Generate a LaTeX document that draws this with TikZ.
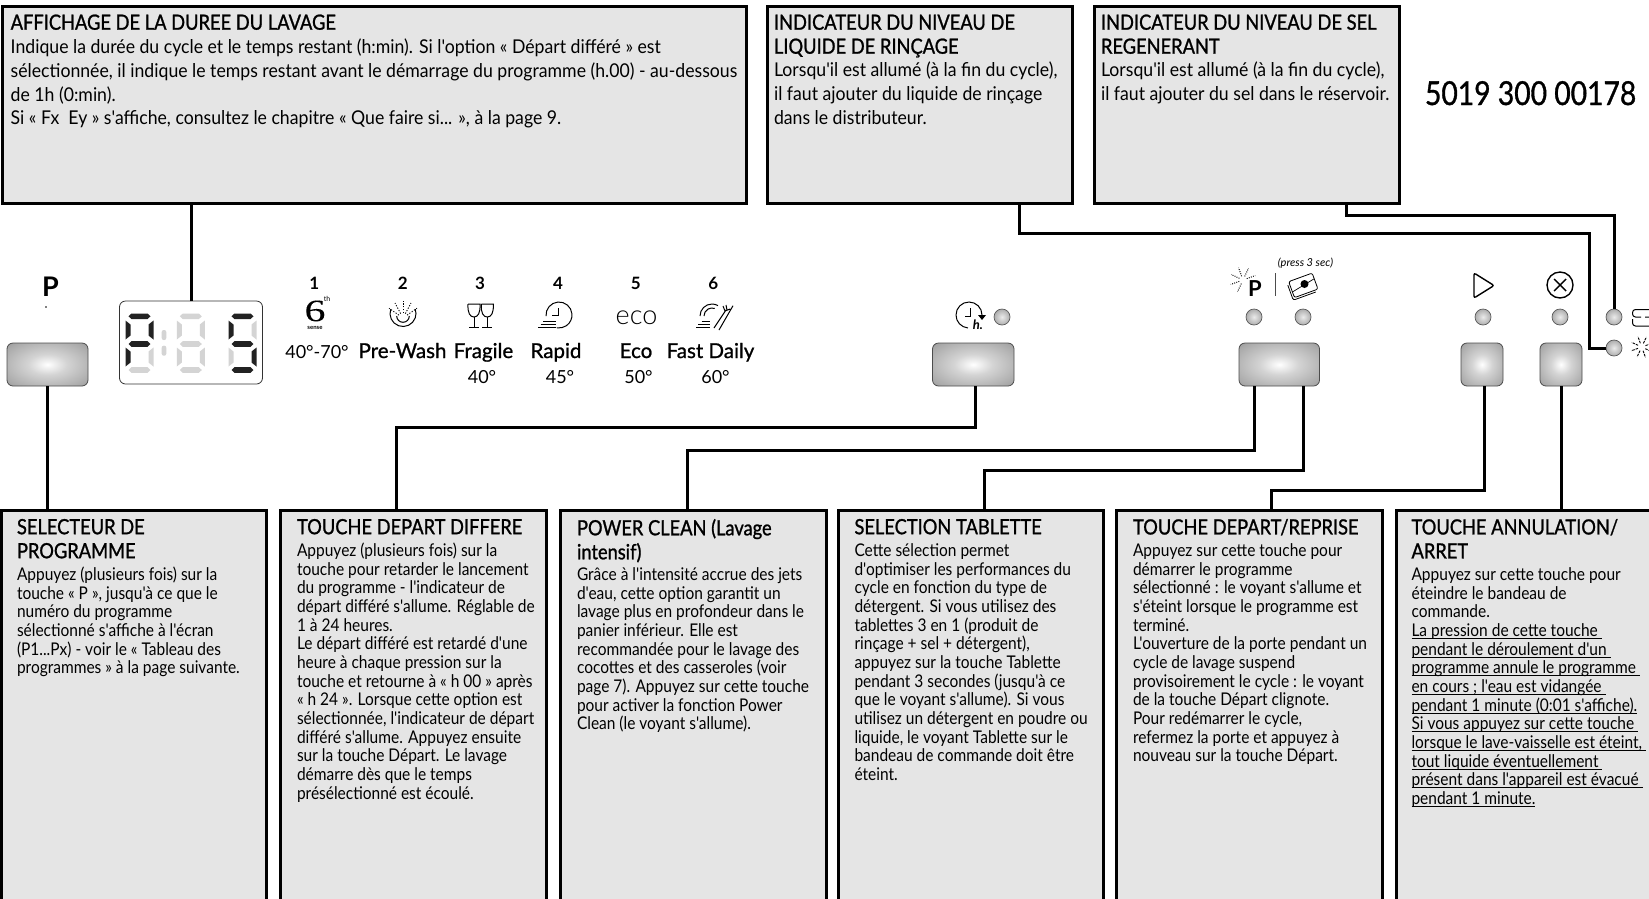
\documentclass[tikz,border=0pt]{standalone}
\usepackage{fontspec}
\usepackage{tikz}
\usetikzlibrary{positioning}
\newfontfamily\topf{Lato}[FakeStretch=0.93]
\newfontfamily\botf{Lato}[FakeStretch=0.885]
\newfontfamily\headf{Lato}[FakeStretch=0.87,FakeBold=1.1]
\newfontfamily\numf{Lato}[FakeStretch=0.857,FakeBold=1]
\newfontfamily\plainf{Lato}
\newfontfamily\lightf{Lato Light}
\newfontfamily\boldf{Lato}[FakeBold=1]
\newfontfamily\sixf{Liberation Serif}[FakeStretch=1.35,FakeBold=0.15]
\definecolor{boxgray}{HTML}{E5E5E5}
\definecolor{segoff}{HTML}{D4D4D4}
\definecolor{segon}{HTML}{222222}
\pgfdeclareradialshading{btnglow}{\pgfpoint{0bp}{0bp}}{color(0bp)=(white); color(12bp)=(black!17); color(30bp)=(black!33); color(50bp)=(black!55)}
\pgfdeclareradialshading{ledglow}{\pgfpoint{0bp}{0bp}}{color(0bp)=(black!8); color(25bp)=(black!32); color(50bp)=(black!50)}
\newcommand{\tstrut}{\rule{0pt}{14pt}}
\newcommand{\barline}[1]{\setbox0\hbox{#1}\rlap{\rule[-2.4pt]{\wd0}{1pt}}\box0}
\newcommand{\hseg}[3]{\fill [#3] (#1-11,-#2) -- ++(3,2.8) -- ++(16,0) -- ++(3,-2.8) -- ++(-3,-2.8) -- ++(-16,0) -- cycle;}
\newcommand{\vseg}[4]{\fill [#3] (#1,-#2) -- ++(#4*5,-4) -- ++(0,-11) -- ++(-#4*5,-4) -- cycle;}
\newcommand{\digitseg}[8]{
	\hseg{#1}{316.3}{#2}
	\vseg{#1-14}{320.5}{#3}{1}
	\vseg{#1+14}{320.5}{#4}{-1}
	\hseg{#1}{344}{#5}
	\vseg{#1-14}{347.5}{#6}{1}
	\vseg{#1+14}{347.5}{#7}{-1}
	\hseg{#1}{370}{#8}
}
\begin{document}
\begin{tikzpicture}[x=1pt,y=1pt]
	\tikzstyle{every node}+=[inner sep=0pt,outer sep=0pt]
	\tikzstyle{textbox}=[draw=black,fill=boxgray,line width=3pt,anchor=north west]
	\tikzstyle{titletxt}=[anchor=north west,align=left,font=\headf\fontsize{21}{24}\selectfont]
	\tikzstyle{toptxt}=[anchor=north west,align=left,font=\topf\fontsize{19}{23.7}\selectfont]
	\tikzstyle{bottxt}=[anchor=north west,align=left,font=\botf\fontsize{17.5}{18.67}\selectfont]
	\tikzstyle{wire}=[draw=black,line width=3pt]
	\tikzstyle{btn}=[draw=black!70,rounded corners=6pt,line width=0.8pt,anchor=north west,minimum height=43pt,shading=btnglow]
	\tikzstyle{led}=[circle,draw=black!65,line width=0.7pt,minimum size=16pt,shading=ledglow]
	\tikzstyle{icon}=[black,line width=1pt]
	\tikzstyle{numtxt}=[font=\plainf\bfseries\fontsize{17}{17}\selectfont]
	\tikzstyle{progtxt}=[anchor=base,font=\boldf\fontsize{20.5}{20.5}\selectfont]
	\tikzstyle{temptxt}=[anchor=base,font=\plainf\fontsize{18}{18}\selectfont]
	\useasboundingbox (0,0) rectangle (1649,-898);

	\node [textbox,minimum width=743.5pt,minimum height=197pt] (dureebox) at (2.5,-6.5) {};
	\node [textbox,minimum width=305pt,minimum height=197pt] (rincebox) at (767,-6.5) {};
	\node [textbox,minimum width=305pt,minimum height=197pt] (selbox) at (1094,-6.5) {};
	\node [textbox,minimum width=265pt,minimum height=400pt] (progbox) at (1.5,-510.5) {};
	\node [textbox,minimum width=266pt,minimum height=400pt] (differebox) at (280,-510.5) {};
	\node [textbox,minimum width=266pt,minimum height=400pt] (cleanbox) at (560,-510.5) {};
	\node [textbox,minimum width=265pt,minimum height=400pt] (tabbox) at (838.5,-510.5) {};
	\node [textbox,minimum width=265.5pt,minimum height=400pt] (departbox) at (1116.5,-510.5) {};
	\node [textbox,minimum width=270pt,minimum height=400pt] (arretbox) at (1396.5,-510.5) {};

	\node [titletxt] (dureetitle) at ([shift={(8.2,-8)}]dureebox.north west) {\tstrut AFFICHAGE DE LA DUREE DU LAVAGE};
	\node [toptxt] (dureetxt) at ([shift={(8.2,-32.5)}]dureebox.north west) {\tstrut Indique la durée du cycle et le temps restant (h:min). Si l'option « Départ différé » est\\
		sélectionnée, il indique le temps restant avant le démarrage du programme (h.00) - au-dessous\\
		de 1h (0:min).\\
		Si « Fx\ \ Ey » s'affiche, consultez le chapitre « Que faire si... », à la page 9.};
	\node [titletxt] (rincetitle) at ([shift={(7,-8)}]rincebox.north west) {\tstrut INDICATEUR DU NIVEAU DE\\LIQUIDE DE RINÇAGE};
	\node [toptxt] (rincetxt) at ([shift={(7,-55.5)}]rincebox.north west) {\tstrut Lorsqu'il est allumé (à la fin du cycle),\\
		il faut ajouter du liquide de rinçage\\
		dans le distributeur.};
	\node [titletxt] (seltitle) at ([shift={(7,-8)}]selbox.north west) {\tstrut INDICATEUR DU NIVEAU DE SEL\\REGENERANT};
	\node [toptxt] (seltxt) at ([shift={(7,-55.5)}]selbox.north west) {\tstrut Lorsqu'il est allumé (à la fin du cycle),\\
		il faut ajouter du sel dans le réservoir.};
	\node [anchor=base west,font=\numf\fontsize{33}{33}\selectfont] (refnum) at (1425,-105) {5019 300 00178};

	\node [titletxt] (progtitle) at ([shift={(15.5,-8.5)}]progbox.north west) {\tstrut SELECTEUR DE\\PROGRAMME};
	\node [bottxt] (progtxt) at ([shift={(15.5,-56)}]progbox.north west) {\tstrut Appuyez (plusieurs fois) sur la\\
		touche « P », jusqu'à ce que le\\
		numéro du programme\\
		sélectionné s'affiche à l'écran\\
		(P1...Px) - voir le « Tableau des\\
		programmes » à la page suivante.};
	\node [titletxt] (differetitle) at ([shift={(17,-8.5)}]differebox.north west) {\tstrut TOUCHE DEPART DIFFERE};
	\node [bottxt] (differetxt) at ([shift={(17,-32)}]differebox.north west) {\tstrut Appuyez (plusieurs fois) sur la\\
		touche pour retarder le lancement\\
		du programme - l'indicateur de\\
		départ différé s'allume. Réglable de\\
		1 à 24 heures.\\
		Le départ différé est retardé d'une\\
		heure à chaque pression sur la\\
		touche et retourne à « h 00 » après\\
		« h 24 ». Lorsque cette option est\\
		sélectionnée, l'indicateur de départ\\
		différé s'allume. Appuyez ensuite\\
		sur la touche Départ. Le lavage\\
		démarre dès que le temps\\
		présélectionné est écoulé.};
	\node [titletxt] (cleantitle) at ([shift={(17,-8.5)}]cleanbox.north west) {\tstrut POWER CLEAN (Lavage\\intensif)};
	\node [bottxt] (cleantxt) at ([shift={(17,-56)}]cleanbox.north west) {\tstrut Grâce à l'intensité accrue des jets\\
		d'eau, cette option garantit un\\
		lavage plus en profondeur dans le\\
		panier inférieur. Elle est\\
		recommandée pour le lavage des\\
		cocottes et des casseroles (voir\\
		page 7). Appuyez sur cette touche\\
		pour activer la fonction Power\\
		Clean (le voyant s'allume).};
	\node [titletxt] (tabtitle) at ([shift={(16,-8.5)}]tabbox.north west) {\tstrut SELECTION TABLETTE};
	\node [bottxt] (tabtxt) at ([shift={(16,-32)}]tabbox.north west) {\tstrut Cette sélection permet\\
		d'optimiser les performances du\\
		cycle en fonction du type de\\
		détergent. Si vous utilisez des\\
		tablettes 3 en 1 (produit de\\
		rinçage + sel + détergent),\\
		appuyez sur la touche Tablette\\
		pendant 3 secondes (jusqu'à ce\\
		que le voyant s'allume). Si vous\\
		utilisez un détergent en poudre ou\\
		liquide, le voyant Tablette sur le\\
		bandeau de commande doit être\\
		éteint.};
	\node [titletxt] (departtitle) at ([shift={(16.5,-8.5)}]departbox.north west) {\tstrut TOUCHE DEPART/REPRISE};
	\node [bottxt] (departtxt) at ([shift={(16.5,-32)}]departbox.north west) {\tstrut Appuyez sur cette touche pour\\
		démarrer le programme\\
		sélectionné : le voyant s'allume et\\
		s'éteint lorsque le programme est\\
		terminé.\\
		L'ouverture de la porte pendant un\\
		cycle de lavage suspend\\
		provisoirement le cycle : le voyant\\
		de la touche Départ clignote.\\
		Pour redémarrer le cycle,\\
		refermez la porte et appuyez à\\
		nouveau sur la touche Départ.};
	\node [titletxt] (arrettitle) at ([shift={(15,-8.5)}]arretbox.north west) {\tstrut TOUCHE ANNULATION/\\ARRET};
	\node [bottxt] (arrettxt) at ([shift={(15,-56)}]arretbox.north west) {\tstrut Appuyez sur cette touche pour\\
		éteindre le bandeau de\\
		commande.\\
		\barline{La pression de cette touche\ }\\
		\barline{pendant le déroulement d'un\ }\\
		\barline{programme annule le programme\ }\\
		\barline{en cours ; l'eau est vidangée\ }\\
		\barline{pendant 1 minute (0:01 s'affiche).}\\
		\barline{Si vous appuyez sur cette touche\ }\\
		\barline{lorsque le lave-vaisselle est éteint,\ }\\
		\barline{tout liquide éventuellement\ }\\
		\barline{présent dans l'appareil est évacué\ }\\
		\barline{pendant 1 minute.}};

	\node [draw=black!80,fill=white,rounded corners=6pt,line width=0.8pt,anchor=north west,minimum width=143pt,minimum height=83pt] (disp) at (119.5,-301) {};
	\digitseg{139.5}{segon}{segon}{segon}{segon}{segon}{segoff}{segoff}
	\digitseg{190.8}{segoff}{segoff}{segoff}{segoff}{segoff}{segoff}{segoff}
	\digitseg{242.5}{segon}{segon}{segoff}{segon}{segoff}{segon}{segon}
	\fill [segoff,rounded corners=2pt] (161.7,-330) rectangle (166.3,-340);
	\fill [segoff,rounded corners=2pt] (161.7,-345.7) rectangle (166.3,-355.7);

	\node [btn,minimum width=81pt] (btnprog) at (7,-343) {};
	\node [btn,minimum width=81.5pt] (btndelay) at (932.5,-343) {};
	\node [btn,minimum width=80.5pt] (btntab) at (1239,-343) {};
	\node [btn,minimum width=42pt] (btnstart) at (1461,-343) {};
	\node [btn,minimum width=42pt] (btnstop) at (1540,-343) {};

	\node [led] (leddelay) at (1002,-317) {};
	\node [led] (ledclean) at (1254,-317) {};
	\node [led] (ledtab) at (1303,-317) {};
	\node [led] (ledstart) at (1483,-317) {};
	\node [led] (ledstop) at (1560,-317) {};
	\node [led] (ledsel) at (1614,-317) {};
	\node [led] (ledrince) at (1614,-348) {};

	\coordinate (rinceA) at (1019.5,-233);
	\coordinate (rinceB) at (1589,-233);
	\coordinate (selA) at (1346,-215);
	\coordinate (selB) at (1614,-215);
	\coordinate (delayA) at (975,-427);
	\coordinate (delayB) at (396,-427);
	\coordinate (cleanA) at (1254,-450);
	\coordinate (cleanB) at (687.5,-450);
	\coordinate (tabA) at (1303,-470);
	\coordinate (tabB) at (984,-470);
	\coordinate (startA) at (1484,-490);
	\coordinate (startB) at (1271.5,-490);
	\draw [wire] (disp.north) -- (disp.north |- dureebox.south);
	\draw [wire] (rinceA |- rincebox.south) -- (rinceA) -- (rinceB) -- (rinceB |- ledrince.west) -- (ledrince.west);
	\draw [wire] (selA |- selbox.south) -- (selA) -- (selB) -- (ledsel.north);
	\draw [wire] (btnprog.south) -- (btnprog.south |- progbox.north);
	\draw [wire] (delayA |- btndelay.south) -- (delayA) -- (delayB) -- (delayB |- differebox.north);
	\draw [wire] (cleanA |- btntab.south) -- (cleanA) -- (cleanB) -- (cleanB |- cleanbox.north);
	\draw [wire] (tabA |- btntab.south) -- (tabA) -- (tabB) -- (tabB |- tabbox.north);
	\draw [wire] (startA |- btnstart.south) -- (startA) -- (startB) -- (startB |- departbox.north);
	\draw [wire] (btnstop.south) -- (btnstop.south |- arretbox.north);

	\node [font=\plainf\bfseries\fontsize{27}{27}\selectfont] (plabel) at (50.5,-286.5) {P};
	\fill (46,-307) circle (0.9);
	\node [numtxt] (numA) at (314.3,-283) {1};
	\node [numtxt] (numB) at (402.7,-283) {2};
	\node [numtxt] (numC) at (480,-283) {3};
	\node [numtxt] (numD) at (558,-283) {4};
	\node [numtxt] (numE) at (635.7,-283) {5};
	\node [numtxt] (numF) at (713.3,-283) {6};

	\node [font=\sixf\fontsize{31}{31}\selectfont] (sixA) at (315,-311) {6};
	\node [font=\plainf\fontsize{7}{7}\selectfont] (sixB) at (327,-299) {th};
	\node [font=\plainf\bfseries\fontsize{6}{6}\selectfont] (sixC) at (315,-327.5) {sense};
	\draw [icon] (403,-313.5) ++(160:13) arc (160:380:13);
	\draw [icon] (403,-316) ++(180:6.3) arc (180:360:6.3);
	\foreach \sa in {35,62,90,118,145} {
		\draw [icon,line width=0.9pt,dash pattern=on 1.2pt off 1.6pt] (403,-318) ++(\sa:5) -- ++(\sa:12);
	}
	\foreach \gx in {474,487.3} {
		\draw [icon] (\gx-6,-304) -- (\gx+6,-304) .. controls (\gx+6.5,-313) and (\gx+4,-317) .. (\gx,-317) .. controls (\gx-4,-317) and (\gx-6.5,-313) .. (\gx-6,-304);
		\draw [icon] (\gx,-317) -- (\gx,-327) (\gx-5,-327) -- (\gx+5,-327);
	}
	\draw [icon] (559,-315) ++(185:13) arc (185:-100:13);
	\draw [icon] (558,-308) -- (558,-315.5) -- (552,-315.5);
	\draw [icon] (543,-321.7) -- (556,-321.7) (540.7,-324.3) -- (556,-324.3) (538.3,-327) -- (556,-327);
	\node [font=\lightf\fontsize{27}{27}\selectfont] (ecoicon) at (636.5,-318) {eco};
	\draw [icon] (712,-316) ++(180:12) arc (180:60:12);
	\draw [icon] (712,-316) ++(180:8) arc (180:70:8);
	\draw [icon] (701.7,-321.7) -- (710,-321.7) (698.3,-324.3) -- (710,-324.3) (696,-327) -- (710,-327);
	\draw [icon] (714,-328) -- (726,-310) (723,-306) -- (725,-311) -- (730,-309) (726,-305) -- (727,-310) (733,-305.7) -- (719,-330);

	\node [temptxt] (tempA) at (317,-358) {40°-70°};
	\node [progtxt] (nameB) at (402.5,-358) {Pre-Wash};
	\node [progtxt] (nameC) at (483.5,-358) {Fragile};
	\node [progtxt] (nameD) at (556,-358) {Rapid};
	\node [progtxt] (nameE) at (636,-358) {Eco};
	\node [progtxt] (nameF) at (710.5,-358) {Fast Daily};
	\node [temptxt] (tempC) at (482,-383) {40°};
	\node [temptxt] (tempD) at (560,-383) {45°};
	\node [temptxt] (tempE) at (638.5,-383) {50°};
	\node [temptxt] (tempF) at (715.5,-383) {60°};

	\draw [icon] (982,-315) arc (0:265:13);
	\fill (978,-315) -- (986,-315) -- (982,-320) -- cycle;
	\draw [icon] (970.7,-308) -- (970.7,-316) -- (964.5,-316);
	\node [font=\plainf\bfseries\itshape\fontsize{13}{13}\selectfont] (hlabel) at (978,-325) {h.};

	\foreach \ra in {20,65,110,155,200,245} {
		\draw [black,line width=1pt,dash pattern=on 0.9pt off 1.3pt] (1243,-280) ++(\ra:4) -- ++(\ra:9);
	}
	\node [font=\plainf\bfseries\fontsize{22}{22}\selectfont,fill=white,inner sep=0.5pt] (pclean) at (1255,-288.5) {P};
	\draw [black!70,line width=0.7pt] (1275.7,-273) -- (1275.7,-296);
	\node [font=\plainf\itshape\fontsize{11}{11}\selectfont] (press) at (1305.5,-263) {(press 3 sec)};
	\draw [icon,line width=0.8pt,rounded corners=2pt,rotate around={20:(1303,-286)}] (1289,-280) -- (1289,-296) -- (1313,-296);
	\draw [icon,line width=0.8pt,fill=white,rounded corners=2pt,rotate around={20:(1303,-286)}] (1291,-277) rectangle (1316,-294);
	\draw [icon,line width=0.7pt,rotate around={20:(1303,-286)}] (1291,-288) -- (1316,-283);
	\fill (1304.5,-284) circle (4);

	\draw [icon,line width=1.4pt,rounded corners=2pt] (1474,-273) -- (1494,-285.5) -- (1474,-298) -- cycle;
	\draw [icon,line width=1.4pt] (1560,-285) circle (13);
	\draw [icon,line width=1.4pt] (1554,-279) -- (1566,-291) (1554,-291) -- (1566,-279);

	\draw [icon,rounded corners=3pt] (1652,-309.5) -- (1632.5,-309.5) -- (1632.5,-317) -- (1641,-317);
	\draw [icon,rounded corners=3pt] (1645,-317) -- (1652,-317) (1632.5,-319) -- (1632.5,-326) -- (1652,-326);
	\foreach \ra in {0,45,...,315} {
		\draw [icon,line width=0.9pt,dash pattern=on 2.5pt off 1pt] (1641.7,-347) ++(\ra+20:4) -- ++(\ra+20:7);
	}
\end{tikzpicture}
\end{document}
